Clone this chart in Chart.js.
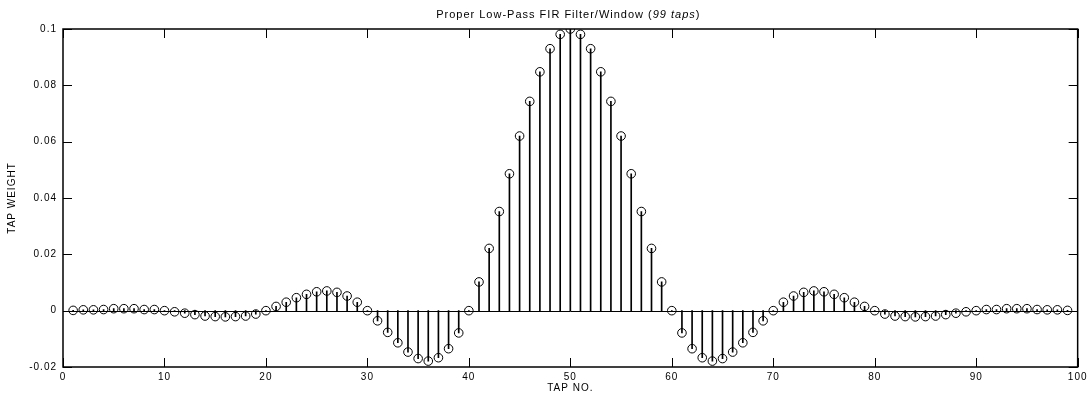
<!DOCTYPE html>
<html>
<head>
<meta charset="utf-8">
<title>Proper Low-Pass FIR Filter/Window</title>
<script src="https://cdn.jsdelivr.net/npm/chart.js@4.4.1/dist/chart.umd.min.js"></script>
<style>
  html, body { margin: 0; padding: 0; background: #fff; }
  #wrap { width: 1090px; height: 396px; }
</style>
</head>
<body>
<div id="wrap"><canvas id="grafico" width="1090" height="396"></canvas></div>
<script>
// ================================
// DADOS — pesos das 99 derivações
// ================================
const tapNumbers = [
  1, 2, 3, 4, 5, 6, 7, 8, 9, 10, 11, 12, 13, 14, 15, 16, 17, 18, 19, 20,
  21, 22, 23, 24, 25, 26, 27, 28, 29, 30, 31, 32, 33, 34, 35, 36, 37, 38, 39, 40,
  41, 42, 43, 44, 45, 46, 47, 48, 49, 50, 51, 52, 53, 54, 55, 56, 57, 58, 59, 60,
  61, 62, 63, 64, 65, 66, 67, 68, 69, 70, 71, 72, 73, 74, 75, 76, 77, 78, 79, 80,
  81, 82, 83, 84, 85, 86, 87, 88, 89, 90, 91, 92, 93, 94, 95, 96, 97, 98, 99
];

const tapWeights = [
  0.0001, 0.0003, 0.0003, 0.0004, 0.0007, 0.0007, 0.0007, 0.0004, 0.0004, 0.0000,
  -0.0004, -0.0009, -0.0014, -0.0019, -0.0021, -0.0022, -0.0021, -0.0019, -0.0012, 0.0000,
  0.0015, 0.0030, 0.0046, 0.0058, 0.0067, 0.0070, 0.0065, 0.0052, 0.0030, 0.0000,
  -0.0036, -0.0077, -0.0114, -0.0147, -0.0170, -0.0179, -0.0167, -0.0135, -0.0079, 0.0000,
  0.0102, 0.0221, 0.0352, 0.0486, 0.0620, 0.0743, 0.0848, 0.0930, 0.0981, 0.1000,
  0.0981, 0.0930, 0.0848, 0.0743, 0.0620, 0.0486, 0.0352, 0.0221, 0.0102, 0.0000,
  -0.0079, -0.0135, -0.0167, -0.0179, -0.0170, -0.0147, -0.0114, -0.0077, -0.0036, 0.0000,
  0.0030, 0.0052, 0.0065, 0.0070, 0.0067, 0.0058, 0.0046, 0.0030, 0.0015, 0.0000,
  -0.0012, -0.0019, -0.0021, -0.0022, -0.0021, -0.0019, -0.0014, -0.0009, -0.0004, 0.0000,
  0.0004, 0.0004, 0.0007, 0.0007, 0.0007, 0.0004, 0.0003, 0.0003, 0.0001
];

const xTicks = [0, 10, 20, 30, 40, 50, 60, 70, 80, 90, 100];
const yTicks = [-0.02, 0, 0.02, 0.04, 0.06, 0.08, 0.1];

const tituloNormal = "Proper Low-Pass FIR Filter/Window (";
const tituloItalico = "99 taps";
const tituloFim = ")";

const FONTE = "'Liberation Sans', Arial, Helvetica, sans-serif";

// ================================
// PLUGIN — moldura, marcas internas, linha zero e título
// ================================
const moldura = {
  id: "moldura",
  beforeDraw(chart) {
    chart.ctx.letterSpacing = "1px";
  },
  beforeDatasetsDraw(chart) {
    const { ctx, chartArea: a, scales } = chart;
    const y0 = Math.round(scales.y.getPixelForValue(0)) + 0.5;
    ctx.save();
    ctx.strokeStyle = "#000";
    ctx.lineWidth = 1;
    ctx.beginPath();
    ctx.moveTo(a.left, y0);
    ctx.lineTo(a.right, y0);
    ctx.stroke();
    ctx.restore();
  },
  afterDraw(chart) {
    const { ctx, chartArea: a, scales } = chart;
    const tam = 9;
    ctx.save();
    ctx.strokeStyle = "#000";
    ctx.lineWidth = 1;
    ctx.beginPath();
    xTicks.forEach(v => {
      const px = Math.round(scales.x.getPixelForValue(v)) + 0.5;
      ctx.moveTo(px, a.top); ctx.lineTo(px, a.top + tam);
      ctx.moveTo(px, a.bottom); ctx.lineTo(px, a.bottom - tam);
    });
    yTicks.forEach(v => {
      const py = Math.round(scales.y.getPixelForValue(v)) + 0.5;
      ctx.moveTo(a.left, py); ctx.lineTo(a.left + tam, py);
      ctx.moveTo(a.right, py); ctx.lineTo(a.right - tam, py);
    });
    ctx.stroke();

    ctx.lineWidth = 1.5;
    ctx.strokeRect(a.left, a.top, a.right - a.left, a.bottom - a.top);

    // título com parte em itálico
    ctx.fillStyle = "#000";
    ctx.textBaseline = "middle";
    ctx.letterSpacing = "1px";
    const fN = "11px " + FONTE;
    const fI = "italic 11px " + FONTE;
    ctx.font = fN;
    const w1 = ctx.measureText(tituloNormal).width;
    const w3 = ctx.measureText(tituloFim).width;
    ctx.font = fI;
    const w2 = ctx.measureText(tituloItalico).width;
    let x = (a.left + a.right) / 2 - (w1 + w2 + w3) / 2 - 2;
    const y = 15;
    ctx.textAlign = "left";
    ctx.font = fN; ctx.fillText(tituloNormal, x, y); x += w1;
    ctx.font = fI; ctx.fillText(tituloItalico, x, y); x += w2;
    ctx.font = fN; ctx.fillText(tituloFim, x, y);
    ctx.restore();
  }
};

// ================================
// GRÁFICO DE HASTES (STEM)
// ================================
function carregarGrafico() {
  const ctx = document.getElementById("grafico");
  const pontos = tapNumbers.map((t, i) => ({ x: t, y: tapWeights[i] }));

  new Chart(ctx, {
    type: "bar",
    data: {
      datasets: [
        {
          type: "scatter",
          data: pontos,
          order: 0,
          pointStyle: "circle",
          pointRadius: 4.3,
          pointBorderWidth: 1,
          pointBorderColor: "#000",
          pointBackgroundColor: "rgba(0,0,0,0)",
          showLine: false,
        },
        {
          type: "bar",
          data: pontos,
          order: 1,
          backgroundColor: "#000",
          borderWidth: 0,
          barThickness: 1,
        },
      ],
    },
    options: {
      responsive: false,
      devicePixelRatio: 1,
      animation: false,
      layout: { padding: { top: 29, right: 12, left: 0, bottom: 0 } },
      plugins: {
        legend: { display: false },
        tooltip: { enabled: false },
        title: { display: false },
      },
      scales: {
        x: {
          type: "linear",
          offset: false,
          min: 0,
          max: 100,
          afterBuildTicks: s => { s.ticks = xTicks.map(v => ({ value: v })); },
          afterFit: s => { s.height = 29; },
          grid: { display: false, drawTicks: false },
          border: { display: false },
          ticks: {
            color: "#000",
            padding: 4,
            maxRotation: 0,
            autoSkip: false,
            font: { family: FONTE, size: 10 },
          },
          title: {
            display: true,
            text: "TAP NO.",
            color: "#000",
            padding: { top: 2, bottom: 2 },
            font: { family: FONTE, size: 10 },
          },
        },
        y: {
          type: "linear",
          min: -0.02,
          max: 0.1,
          afterBuildTicks: s => { s.ticks = yTicks.map(v => ({ value: v })); },
          afterFit: s => { s.width = 63; },
          grid: { display: false, drawTicks: false },
          border: { display: false },
          ticks: {
            color: "#000",
            padding: 6,
            autoSkip: false,
            font: { family: FONTE, size: 10 },
            callback: v => String(Number(v.toFixed(2))),
          },
          title: {
            display: true,
            text: "TAP WEIGHT",
            color: "#000",
            padding: { top: 6, bottom: 6 },
            font: { family: FONTE, size: 10 },
          },
        },
      },
    },
    plugins: [moldura],
  });
}

carregarGrafico();
</script>
</body>
</html>
